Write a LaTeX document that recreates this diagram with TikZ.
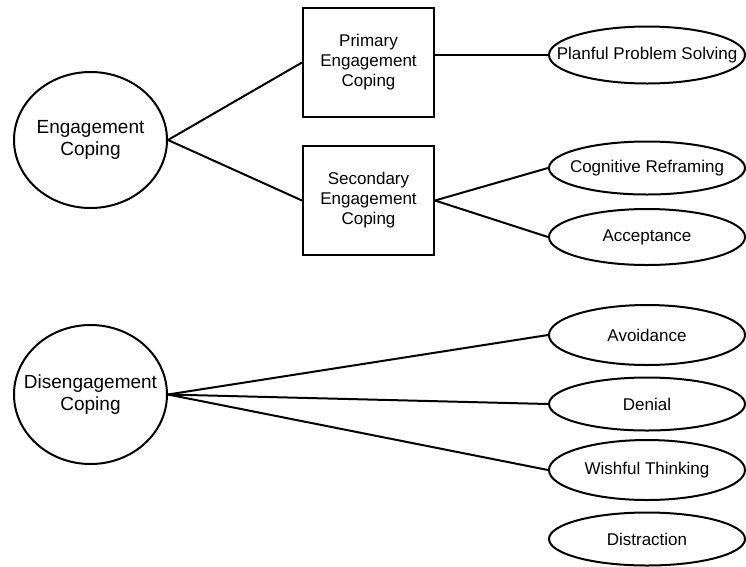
\documentclass[tikz,border=0pt]{standalone}
\usepackage{fontspec}
\setmainfont{Liberation Sans}
\usetikzlibrary{shapes.geometric}
\begin{document}
\begin{tikzpicture}[x=1pt,y=-1pt,
 root/.style={draw,ellipse,line width=2pt,minimum width=153pt,minimum height=136pt,inner ysep=0pt,inner xsep=-20pt,align=center,font=\fontsize{19}{22}\selectfont},
 mid/.style={draw,rectangle,line width=2pt,minimum width=131pt,minimum height=109pt,inner sep=0pt,align=center,font=\fontsize{17}{20}\selectfont},
 leaf/.style={draw,ellipse,line width=2pt,minimum width=196pt,minimum height=56pt,inner ysep=0pt,inner xsep=-50pt,font=\fontsize{17}{20}\selectfont},
 link/.style={line width=2pt}]
\useasboundingbox (0,0) rectangle (746,566);
\node[root] (eng) at (90.5,140) {Engagement\\Coping};
\node[root,minimum height=139pt] (dis) at (90.5,394.5) {Disengagement\\Coping};
\node[mid] (prim) at (368.5,62.5) {Primary\\Engagement\\Coping};
\node[mid] (sec) at (368.5,200.5) {Secondary\\Engagement\\Coping};
\node[leaf,minimum height=57pt] (plan) at (647,55) {Planful Problem Solving};
\node[leaf,minimum height=53pt] (cog) at (647,168) {Cognitive Reframing};
\node[leaf] (acc) at (647,237) {Acceptance};
\node[leaf,minimum height=60pt] (avo) at (647,335) {Avoidance};
\node[leaf,minimum height=53pt] (den) at (647,404) {Denial};
\node[leaf,minimum height=60pt] (wish) at (647,470) {Wishful Thinking};
\node[leaf,minimum height=53pt] (distr) at (647,539) {Distraction};
\draw[link] (eng.east) -- (prim.west);
\draw[link] (eng.east) -- (sec.west);
\draw[link] (prim.east |- plan.west) -- (plan.west);
\draw[link] (sec.east) -- (cog.west);
\draw[link] (sec.east) -- (acc.west);
\draw[link] (dis.east) -- (avo.west);
\draw[link] (dis.east) -- (den.west);
\draw[link] (dis.east) -- (wish.west);
\end{tikzpicture}
\end{document}
